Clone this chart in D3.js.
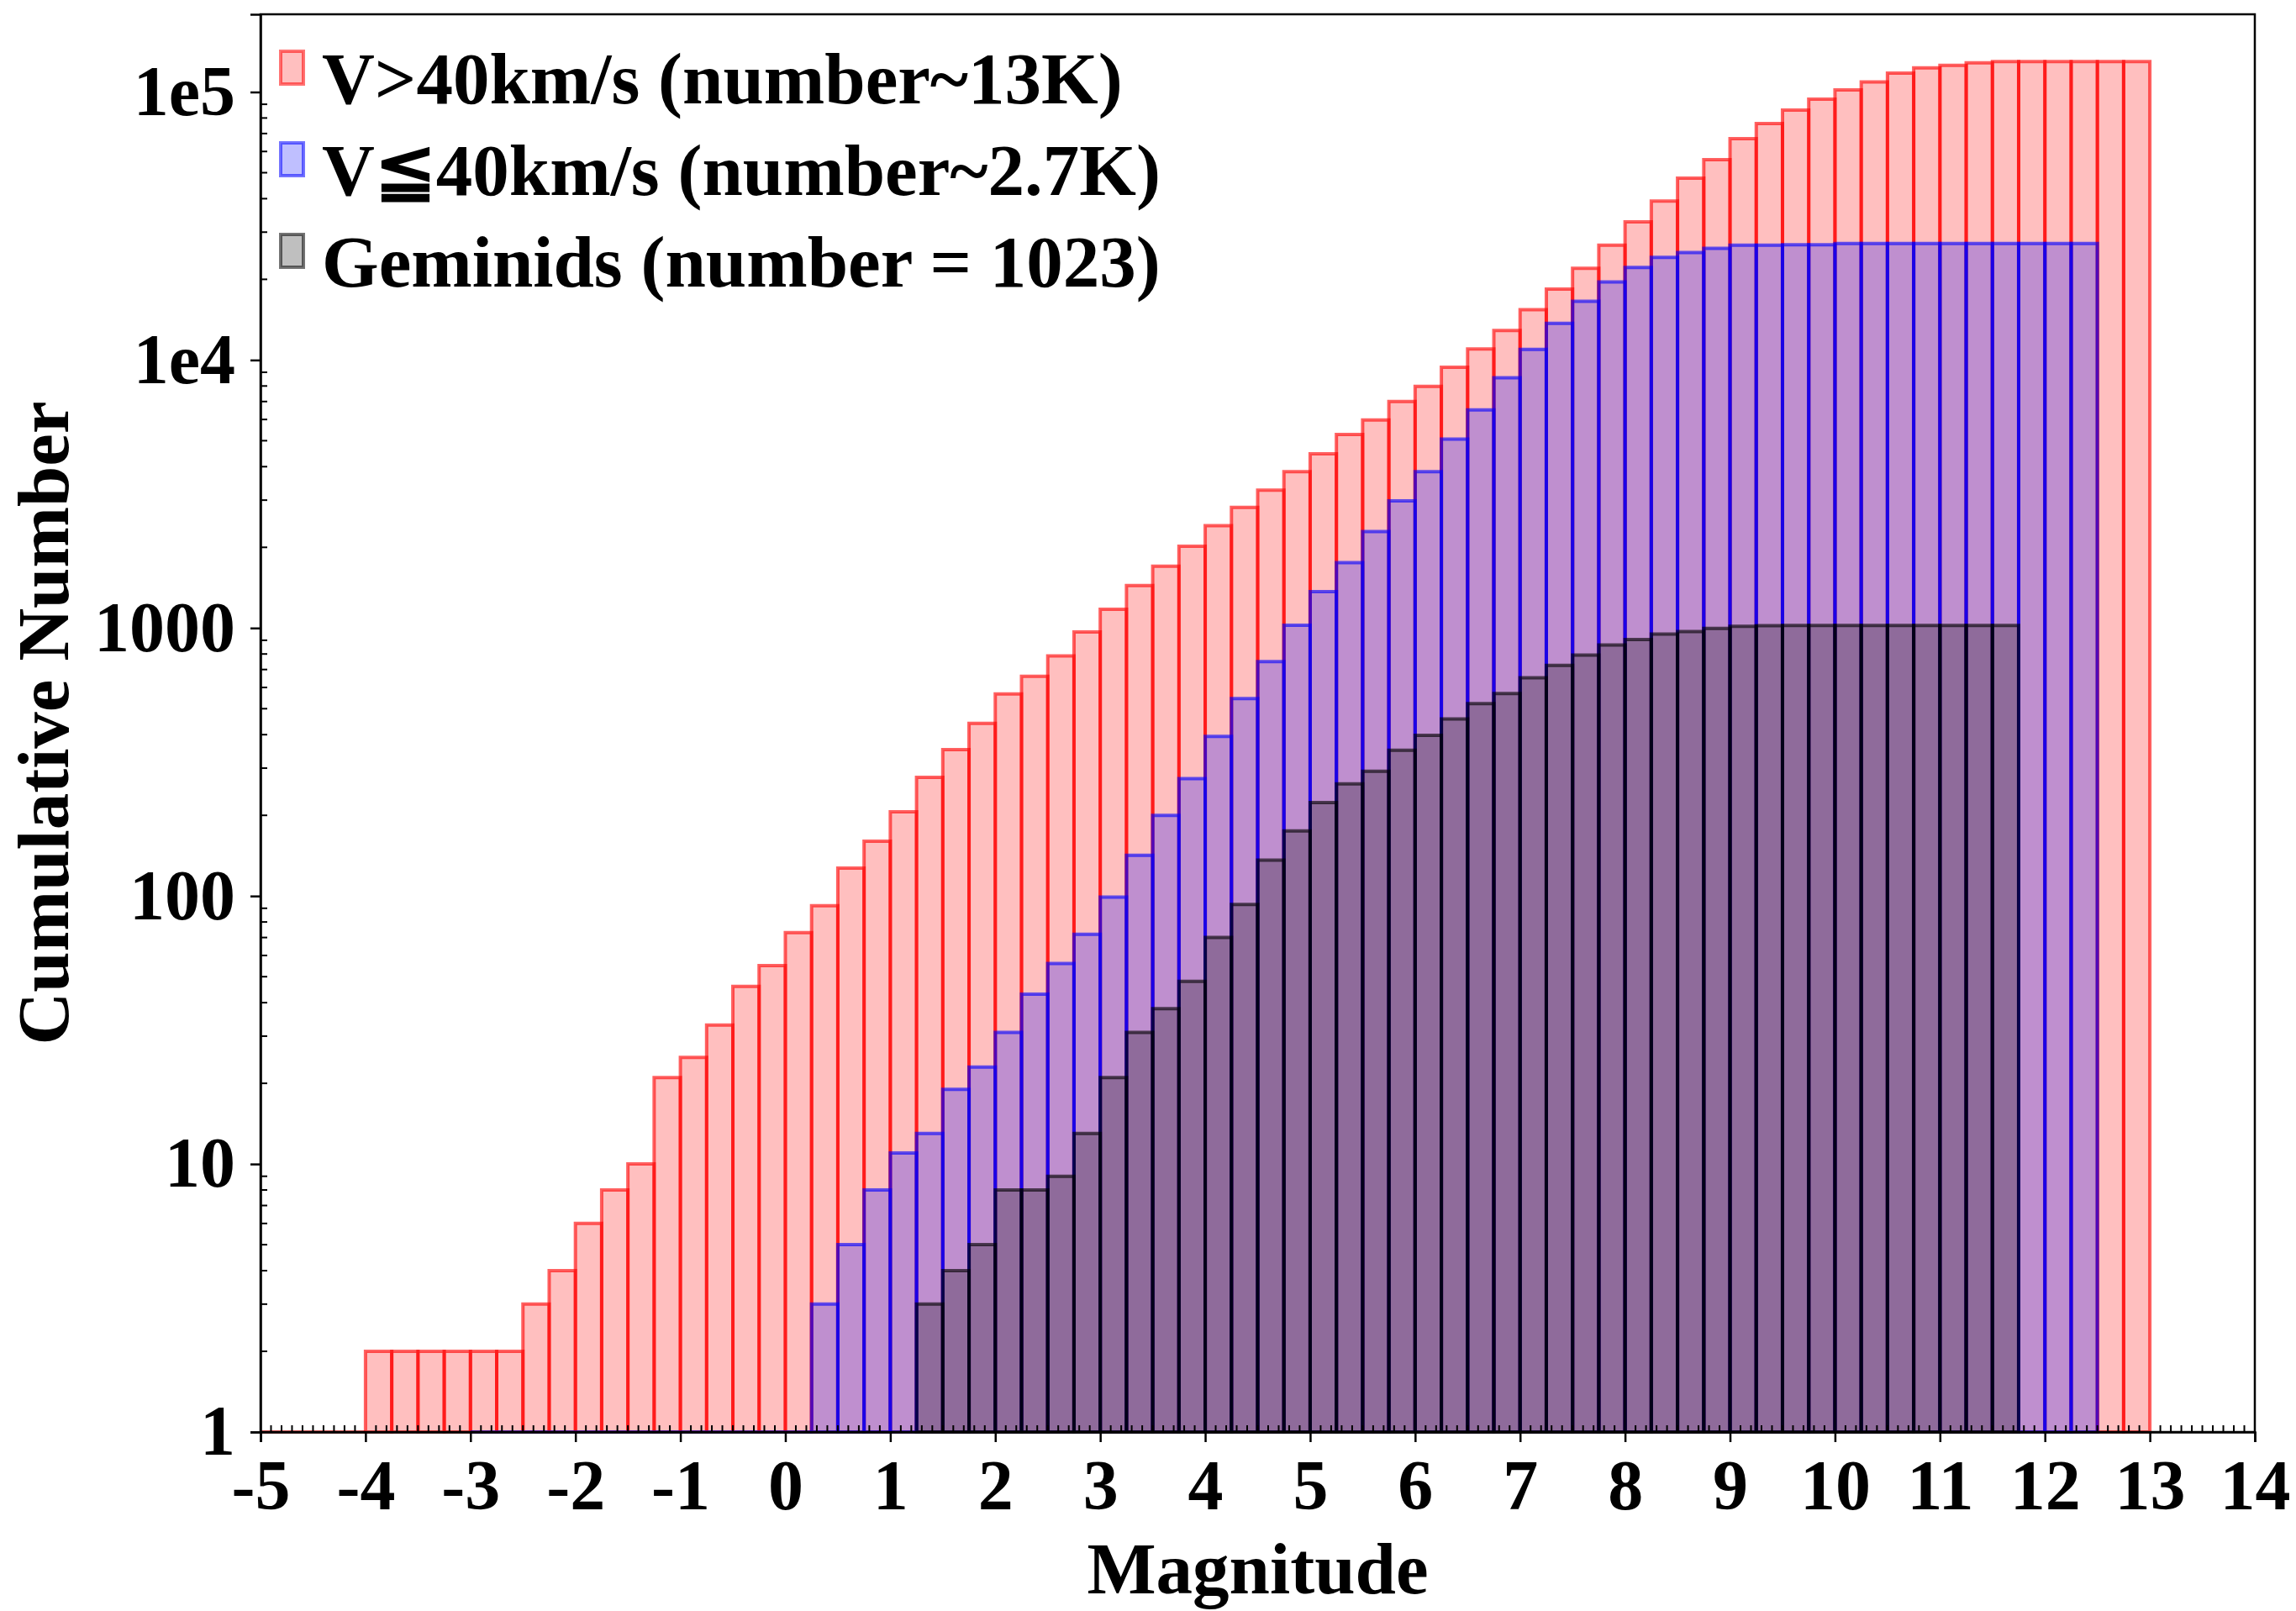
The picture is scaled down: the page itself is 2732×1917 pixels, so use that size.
<!DOCTYPE html>
<html>
<head>
<meta charset="utf-8">
<script src="https://cdn.jsdelivr.net/npm/d3@7"></script>
<style>
  body { margin: 0; background: #fff; }
  svg text { font-family: "Liberation Serif", "Times New Roman", serif; font-weight: bold; fill: #000; }
</style>
</head>
<body>
<script>
// cumulative counts per 0.25 mag bin
const binWidth = 0.25;

const fastStart = -5;   // V>40km/s
const fastCounts = [
  1, 1, 1, 1,
  2, 2, 2, 2, 2, 2,
  3, 4, 6, 8, 10, 21, 25, 33, 46, 55,
  73, 92, 127, 160, 206, 277, 352, 441, 568, 661,
  787, 967, 1175, 1440, 1700, 2020, 2410, 2820, 3270, 3830,
  4470, 5270, 5970, 7000, 7980, 9400, 11000, 12900, 15400, 18400,
  22000, 26800, 32800, 39200, 47700, 55900, 67000, 76300, 85600, 94000,
  101800, 109000, 117600, 123000, 125700, 128400, 130000, 130000, 130000, 130000,
  130000, 130000
];

const slowStart = -3;   // V<=40km/s
const slowCounts = [
  1, 1, 1, 1, 1, 1, 1, 1, 1, 1, 1, 1, 1,
  3, 5, 8, 11, 13, 19, 23, 31, 43, 56,
  72, 99, 142, 200, 274, 394, 545, 750, 1025, 1368,
  1755, 2290, 2980, 3830, 5070, 6520, 8590, 10950, 13700, 16550,
  19550, 22150, 24150, 25200, 26100, 26800, 26800, 26900, 26900, 27200,
  27200, 27200, 27200, 27200, 27200, 27200, 27200, 27200, 27200
];

const gemStart = 1.25;  // Geminids
const gemCounts = [
  3, 4, 5, 8, 8, 9, 13, 21, 31, 38,
  48, 70, 93, 136, 175, 223, 262, 292, 350, 398,
  458, 522, 570, 652, 725, 792, 865, 905, 950, 970,
  996, 1015, 1020, 1023, 1023, 1023, 1023, 1023, 1023, 1023,
  1023, 1023
];

const seriesNames = ["V>40km/s (number~13K)", "V\u226640km/s (number~2.7K)", "Geminids (number = 1023)"];
const seriesColors = ["#ff0000", "#0000ff", "#000000"];

const xTicks = d3.range(-5, 15, 1);
const yTicks = [1, 10, 100, 1000, 1e4, 1e5];
const yTickLabels = ["1", "10", "100", "1000", "1e4", "1e5"];

let margin = null, width = null, height = null;
let svg = null;
let x, y = null;

setupCanvasSize();
appendSvg("body");
drawChart();

function setupCanvasSize() {
  margin = {top: 17, left: 310, bottom: 213, right: 49};
  width = 2732 - margin.left - margin.right;
  height = 1917 - margin.top - margin.bottom;
}

function appendSvg(domElement) {
  svg = d3.select(domElement).append("svg")
    .attr("width", width + margin.left + margin.right)
    .attr("height", height + margin.top + margin.bottom)
    .append("g")
    .attr("transform", `translate(${margin.left}, ${margin.top})`);
}

function toBins(start, counts) {
  return counts.map((c, i) => ({x0: start + i * binWidth, x1: start + (i + 1) * binWidth, n: c}));
}

function drawChart() {
  x = d3.scaleLinear().domain([-5, 14]).range([0, width]);
  y = d3.scaleLog().domain([1, 1.95e5]).range([height, 0]);

  appendBars(toBins(fastStart, fastCounts), seriesColors[0]);
  appendBars(toBins(slowStart, slowCounts), seriesColors[1]);
  appendBars(toBins(gemStart, gemCounts), seriesColors[2]);

  appendAxes();
  appendLegend();
}

function appendBars(bins, color) {
  svg.append("g").selectAll("path")
    .data(bins)
    .enter()
    .append("path")
    .attr("d", d => `M${x(d.x0)},${y(1)}V${y(d.n)}H${x(d.x1)}V${y(1)}Z`)
    .attr("fill", color)
    .attr("fill-opacity", 0.25)
    .attr("stroke", color)
    .attr("stroke-opacity", 0.62)
    .attr("stroke-width", 4);
}

function appendAxes() {
  // frame
  svg.append("rect")
    .attr("width", width).attr("height", height)
    .attr("fill", "none").attr("stroke", "#000").attr("stroke-width", 2.5);

  // x axis: major ticks out, minor ticks in
  const xAxis = svg.append("g").attr("transform", `translate(0, ${height})`);
  xAxis.call(d3.axisBottom(x).tickValues(xTicks).tickSize(12).tickPadding(20).tickFormat(d => String(d)))
    .call(g => g.select(".domain").attr("stroke-width", 2.5))
    .call(g => g.selectAll(".tick line").attr("stroke-width", 2.5))
    .call(g => g.selectAll(".tick text").attr("font-size", 84).attr("font-family", null));
  const minorX = d3.range(-50, 141).map(v => v / 10).filter(v => Math.round(v * 10) % 10 !== 0);
  xAxis.selectAll(".minor").data(minorX).enter().append("line")
    .attr("x1", d => x(d)).attr("x2", d => x(d))
    .attr("y1", 0).attr("y2", -8)
    .attr("stroke", "#000").attr("stroke-width", 2);

  // y axis (log)
  const yAxis = svg.append("g");
  yAxis.call(d3.axisLeft(y).tickValues(yTicks).tickSize(12).tickPadding(18)
      .tickFormat((d, i) => yTickLabels[i]))
    .call(g => g.select(".domain").attr("stroke-width", 2.5))
    .call(g => g.selectAll(".tick line").attr("stroke-width", 2.5))
    .call(g => g.selectAll(".tick text").attr("font-size", 84).attr("font-family", null));
  const minorY = [];
  yTicks.forEach(t => d3.range(2, 10).forEach(k => { if (t * k < 1.95e5) minorY.push(t * k); }));
  yAxis.selectAll(".minor").data(minorY).enter().append("line")
    .attr("x1", 0).attr("x2", 8)
    .attr("y1", d => y(d)).attr("y2", d => y(d))
    .attr("stroke", "#000").attr("stroke-width", 2);

  svg.append("text")
    .attr("x", width / 2).attr("y", height + 192)
    .attr("text-anchor", "middle").attr("font-size", 87)
    .text("Magnitude");

  svg.append("text")
    .attr("transform", `translate(${-229}, ${height / 2}) rotate(-90)`)
    .attr("text-anchor", "middle").attr("font-size", 87)
    .text("Cumulative Number");
}

function appendLegend() {
  const legend = svg.append("g").attr("transform", "translate(22, 42)");
  seriesNames.forEach((name, i) => {
    const row = legend.append("g").attr("transform", `translate(0, ${i * 109})`);
    row.append("rect")
      .attr("x", 2).attr("y", 2).attr("width", 27).attr("height", 39)
      .attr("fill", seriesColors[i]).attr("fill-opacity", 0.25)
      .attr("stroke", seriesColors[i]).attr("stroke-opacity", 0.55).attr("stroke-width", 4);
    row.append("text")
      .attr("x", 51).attr("y", 64)
      .attr("font-size", 87)
      .text(name);
  });
}
</script>
</body>
</html>
